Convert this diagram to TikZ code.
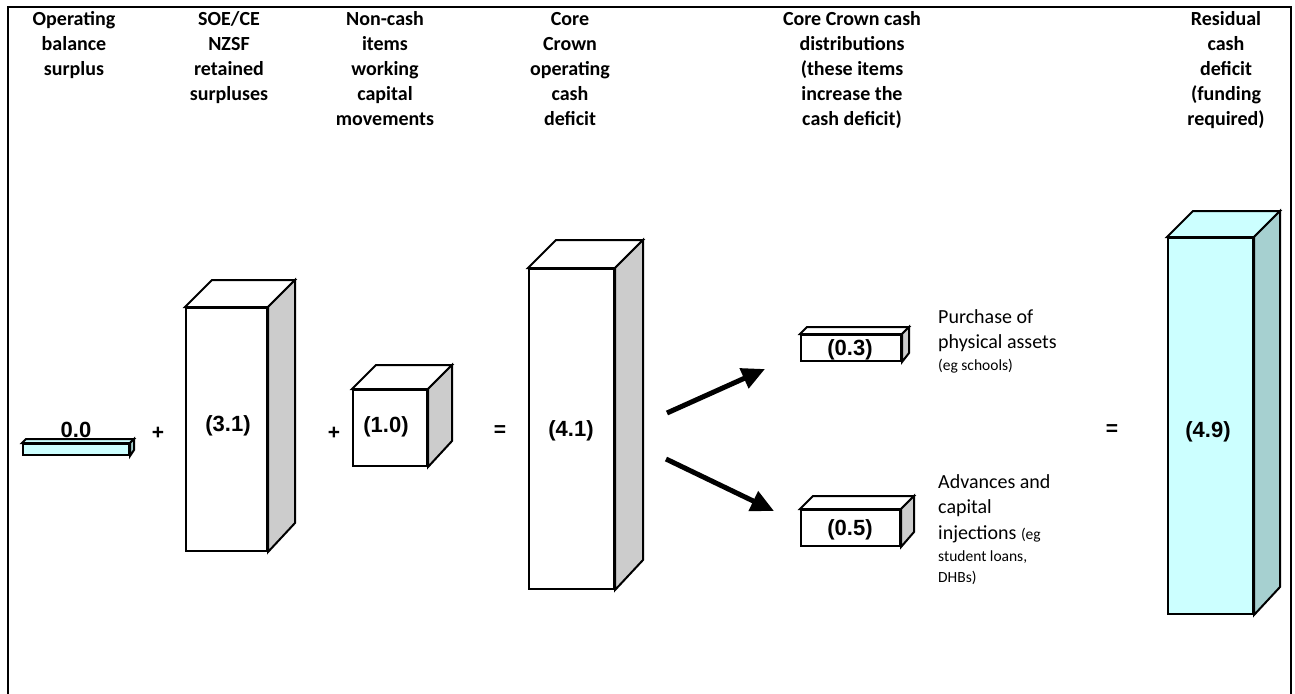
\documentclass[tikz,border=0pt]{standalone}
\usepackage{fontspec}
\newfontfamily\calibri{Carlito}
\newfontfamily\arialf{Liberation Sans}
\usetikzlibrary{arrows.meta}
\definecolor{sidegray}{HTML}{CCCCCC}
\definecolor{cyanfront}{HTML}{CCFFFF}
\definecolor{cyanside}{HTML}{A6D0D0}
% name, cx, cy, w, h, d, front/top colour, side colour
\newcommand\cubebox[8]{%
  \node[cubefront, fill=#7, minimum width=#4pt, minimum height=#5pt] (#1) at (#2,#3) {};
  \draw[cubeline, fill=#7] (#1.north west) -- ++(#6,-#6) -- ([xshift=#6pt,yshift=#6pt]#1.north east) -- (#1.north east) -- cycle;
  \draw[cubeline, fill=#8] (#1.north east) -- ++(#6,-#6) -- ++(0,#5) -- (#1.south east) -- cycle;
}
\newcommand\smalltext{\fontsize{15.5}{19}\selectfont}
\newcommand\firstline{\rule{0pt}{16pt}}
\begin{document}
\begin{tikzpicture}[x=1pt,y=-1pt,
  cubeline/.style={draw=black, line width=2pt, line join=miter},
  cubefront/.style={cubeline, rectangle, inner sep=0pt},
  val/.style={font=\arialf\bfseries\fontsize{22}{24}\selectfont, inner sep=0pt},
  head/.style={font=\calibri\bfseries\fontsize{20}{25}\selectfont, align=center, anchor=north, inner sep=0pt},
  note/.style={font=\calibri\fontsize{20}{25.5}\selectfont, align=left, anchor=north west, inner sep=0pt},
  op/.style={font=\arialf\bfseries\fontsize{21}{24}\selectfont, inner sep=0pt},
  flow/.style={line width=5pt, -{Triangle[length=23pt,width=21pt]}},
  frame/.style={line width=2pt}
]
\useasboundingbox (0,0) rectangle (1295,693);
% outer frame
\coordinate (f1) at (8,700);
\coordinate (f2) at (8,7);
\coordinate (f3) at (1291,7);
\coordinate (f4) at (1291,700);
\draw[frame] (f1) -- (f2) -- (f3) -- (f4);

% headings
\node[head] (h1) at (74,9) {\firstline Operating\\balance\\surplus};
\node[head] (h2) at (229,9) {\firstline SOE/CE\\NZSF\\retained\\surpluses};
\node[head] (h3) at (385,9) {\firstline Non-cash\\items\\working\\capital\\movements};
\node[head] (h4) at (570,9) {\firstline Core\\Crown\\operating\\cash\\deficit};
\node[head] (h5) at (852,9) {\firstline Core Crown cash\\distributions\\(these items\\increase the\\cash deficit)};
\node[head] (h6) at (1226,9) {\firstline Residual\\cash\\deficit\\(funding\\required)};

% boxes
\cubebox{b00}{76}{449.5}{106}{11}{4}{cyanfront}{cyanside}
\node[val] (t00) at (76,430) {0.0};
\cubebox{b31}{226.5}{429.5}{81}{243}{27}{white}{sidegray}
\node[val] (t31) at (228,426) {(3.1)};
\cubebox{b10}{390}{428}{74}{76}{24}{white}{sidegray}
\node[val] (t10) at (386,427) {(1.0)};
\cubebox{b41}{571.5}{429}{85}{320}{28}{white}{sidegray}
\node[val] (t41) at (571,431) {(4.1)};
\cubebox{b03}{851}{348}{100}{26}{7}{white}{sidegray}
\node[val] (t03) at (850,350) {(0.3)};
\cubebox{b05}{850.5}{528}{99}{36}{13}{white}{sidegray}
\node[val] (t05) at (850,530) {(0.5)};
\cubebox{b49}{1210.5}{426}{85}{376}{26}{cyanfront}{cyanside}
\node[val] (t49) at (1208,432) {(4.9)};

% operators
\node[op] (o1) at (158,433) {+};
\node[op] (o2) at (334,433) {+};
\node[op] (o3) at (500,431) {=};
\node[op] (o4) at (1112,430) {=};

% arrows
\coordinate (a1s) at (667,413);
\coordinate (a1e) at (765,369);
\coordinate (a2s) at (666,459);
\coordinate (a2e) at (774,511);
\draw[flow] (a1s) -- (a1e);
\draw[flow] (a2s) -- (a2e);

% notes
\node[note] (n1) at (938,307) {\firstline Purchase of\\physical assets\\[-3.5pt]{\smalltext (eg schools)}};
\node[note] (n2) at (938,472) {\firstline Advances and\\capital\\injections {\smalltext(eg}\\[-3.5pt]{\smalltext student loans,}\\[-4pt]{\smalltext DHBs)}};
\end{tikzpicture}
\end{document}
